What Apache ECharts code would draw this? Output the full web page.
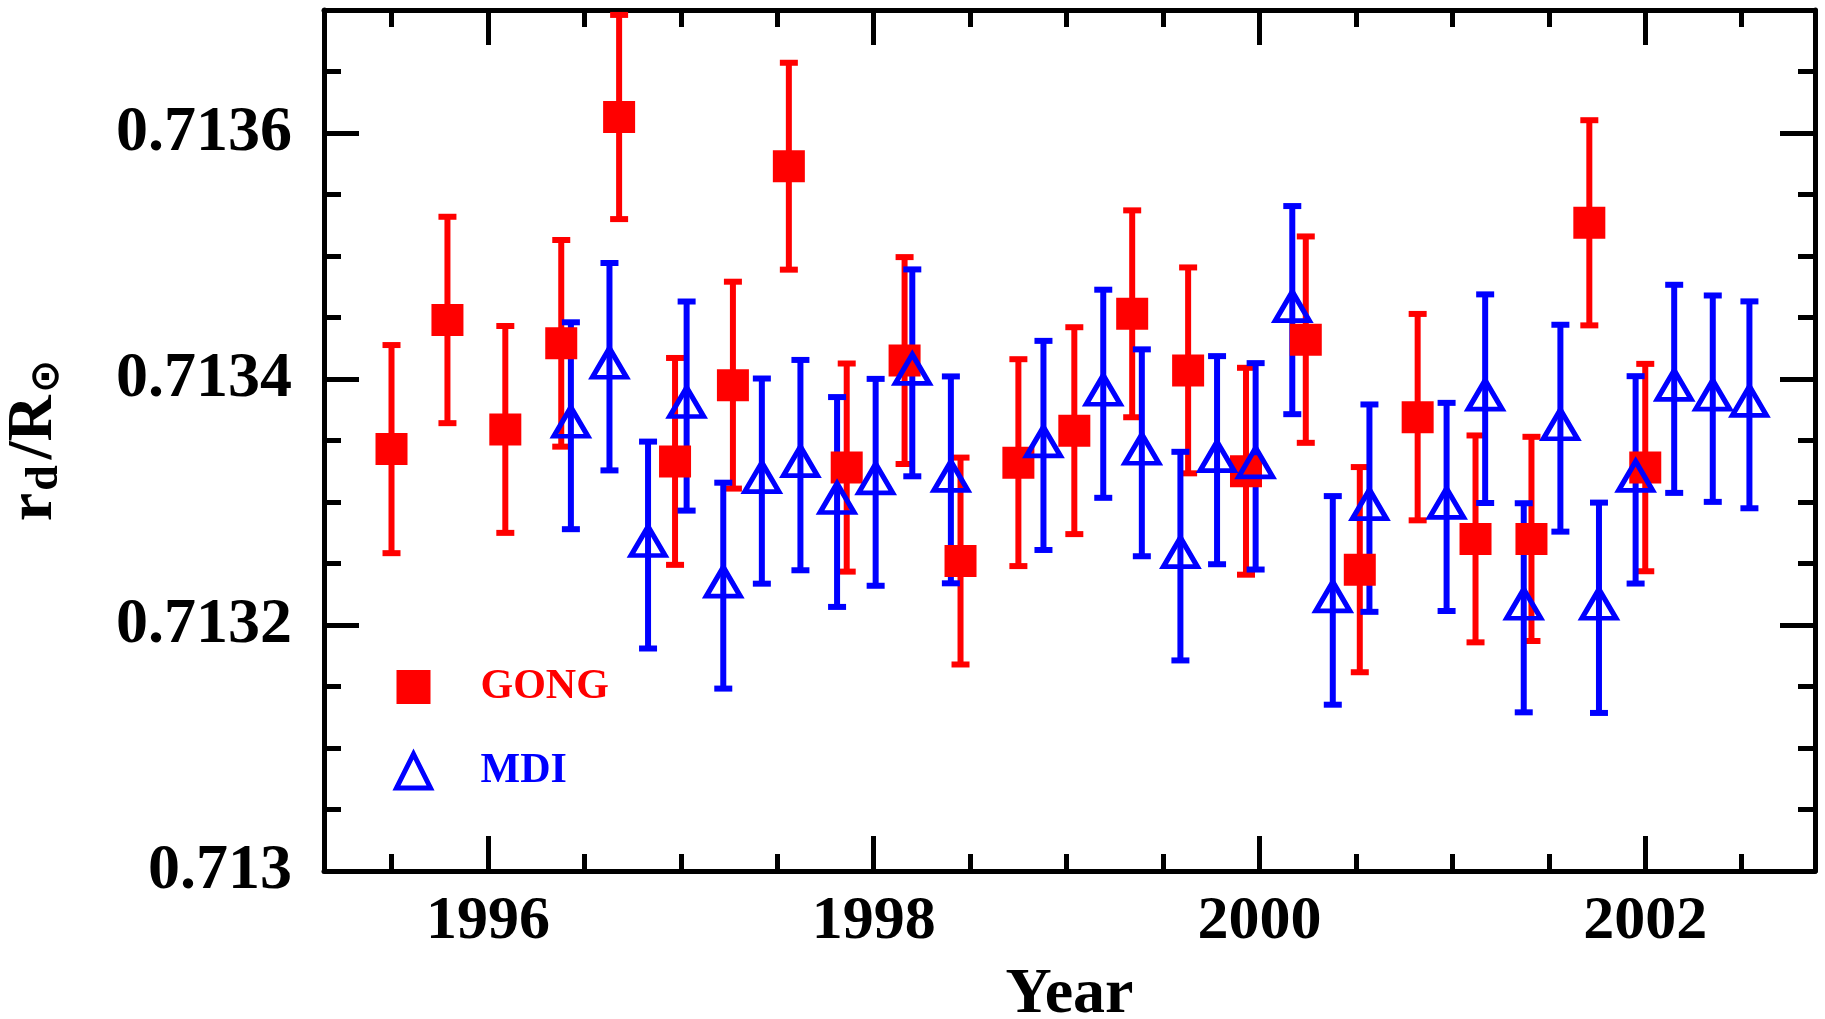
<!DOCTYPE html>
<html>
<head>
<meta charset="utf-8">
<title>r_d / R_sun, GONG and MDI</title>
<script src="https://cdn.jsdelivr.net/npm/echarts@6/dist/echarts.min.js"></script>
<style>
    html, body { margin: 0; padding: 0; background: #ffffff; }
    #chart { width: 1825px; height: 1019px; }
</style>
</head>
<body>
<div id="chart"></div>
<script>
// GONG: year, r_d/R_sun, error
var gongYear = [1995.50, 1995.79, 1996.09, 1996.38, 1996.68, 1996.97, 1997.27, 1997.56, 1997.86, 1998.16, 1998.45, 1998.75,
    1999.04, 1999.34, 1999.63, 1999.93, 2000.24, 2000.52, 2000.82, 2001.12, 2001.41, 2001.71, 2002.00];
var gongRadius = [0.713343, 0.713448, 0.713359, 0.713429, 0.713613, 0.713333, 0.713395, 0.713573, 0.713328, 0.713415, 0.713252, 0.713332,
    0.713358, 0.713453, 0.713407, 0.713325, 0.713432, 0.713245, 0.713369, 0.713270, 0.713270, 0.713527, 0.713328];
var gongError = [0.0000846, 0.0000839, 0.0000841, 0.0000840, 0.0000830, 0.0000841, 0.0000841, 0.0000841, 0.0000846, 0.0000841, 0.0000841, 0.0000841,
    0.0000841, 0.0000841, 0.0000837, 0.0000841, 0.0000839, 0.0000834, 0.0000839, 0.0000841, 0.0000830, 0.0000834, 0.0000843];

// MDI: year, r_d/R_sun, error
var mdiYear = [1996.43, 1996.63, 1996.83, 1997.03, 1997.22, 1997.42, 1997.62, 1997.81, 1998.01, 1998.20, 1998.40, 1998.88,
    1999.19, 1999.39, 1999.59, 1999.78, 1999.98, 2000.17, 2000.38, 2000.57, 2000.97, 2001.17, 2001.37, 2001.56,
    2001.76, 2001.95, 2002.15, 2002.35, 2002.54];
var mdiRadius = [0.713362, 0.713410, 0.713265, 0.713378, 0.713232, 0.713317, 0.713330, 0.713300, 0.713316, 0.713405, 0.713318, 0.713346,
    0.713388, 0.713340, 0.713256, 0.713334, 0.713329, 0.713456, 0.713220, 0.713295, 0.713296, 0.713384, 0.713214, 0.713360,
    0.713214, 0.713318, 0.713392, 0.713384, 0.713379];
var mdiError = [0.0000841, 0.0000843, 0.0000841, 0.0000850, 0.0000837, 0.0000834, 0.0000855, 0.0000853, 0.0000841, 0.0000841, 0.0000841, 0.0000850,
    0.0000846, 0.0000841, 0.0000848, 0.0000846, 0.0000839, 0.0000846, 0.0000848, 0.0000843, 0.0000846, 0.0000848, 0.0000850, 0.0000841,
    0.0000855, 0.0000843, 0.0000846, 0.0000839, 0.0000841];

// axes
var xMin = 1995.15, xMax = 2002.88;
var yMin = 0.713, yMax = 0.7137;
var xMajorTicks = [1996, 1998, 2000, 2002];
var xMinorTicks = [1995.5, 1996.5, 1997, 1997.5, 1998.5, 1999, 1999.5, 2000.5, 2001, 2001.5, 2002.5];
var yMajorTicks = [0.713, 0.7132, 0.7134, 0.7136];
var yMinorTicks = [0.71305, 0.7131, 0.71315, 0.71325, 0.7133, 0.71335, 0.71345, 0.7135, 0.71355, 0.71365];

var fontName = "'Liberation Serif', 'DejaVu Serif', serif";
var red = '#ff0000', blue = '#0000ff';

function points(xs, ys) {
    var out = [];
    for (var i = 0; i < xs.length; i++) out.push([xs[i], ys[i]]);
    return out;
}

function bars(xs, ys, errs) {
    var out = [];
    for (var i = 0; i < xs.length; i++) out.push([xs[i], ys[i] - errs[i], ys[i] + errs[i]]);
    return out;
}

function errorBar(color) {
    return function(params, api) {
        var lo = api.coord([api.value(0), api.value(1)]);
        var hi = api.coord([api.value(0), api.value(2)]);
        var half = 9;
        var style = { stroke: color, lineWidth: 6 };
        return {
            type: 'group',
            children: [
                { type: 'line', shape: { x1: hi[0], y1: hi[1], x2: lo[0], y2: lo[1] }, style: style },
                { type: 'line', shape: { x1: hi[0] - half, y1: hi[1], x2: hi[0] + half, y2: hi[1] }, style: style },
                { type: 'line', shape: { x1: lo[0] - half, y1: lo[1], x2: lo[0] + half, y2: lo[1] }, style: style }
            ]
        };
    };
}

function frameAxis(pos, min, max, ticks, len, showLine) {
    return {
        type: 'value',
        position: pos,
        min: min,
        max: max,
        axisLine: { show: showLine, lineStyle: { color: '#000', width: 5 } },
        axisTick: { show: true, inside: true, length: len, customValues: ticks, lineStyle: { color: '#000', width: 5 } },
        axisLabel: { show: false },
        splitLine: { show: false }
    };
}

var xBottom = frameAxis('bottom', xMin, xMax, xMajorTicks, 35, true);
xBottom.axisLabel = {
    show: true, customValues: xMajorTicks, margin: 20,
    fontFamily: fontName, fontWeight: 'bold', fontSize: 62, color: '#000',
    formatter: function(v) { return String(v); }
};
xBottom.name = 'Year';
xBottom.nameLocation = 'middle';
xBottom.nameGap = 92;
xBottom.nameTextStyle = { fontFamily: fontName, fontWeight: 'bold', fontSize: 64, color: '#000' };

var yLeft = frameAxis('left', yMin, yMax, yMajorTicks, 35, true);
yLeft.axisLabel = {
    show: true, customValues: yMajorTicks, margin: 32,
    fontFamily: fontName, fontWeight: 'bold', fontSize: 64, color: '#000',
    formatter: function(v) { return parseFloat(v.toFixed(4)).toString(); }
};
// subscripts pushed down with top padding
yLeft.name = '{m|r}{s|d}{m|/R}{o|\u2299}';
yLeft.nameLocation = 'middle';
yLeft.nameRotate = 90;
yLeft.nameGap = 256;
yLeft.nameTextStyle = {
    rich: {
        m: { fontFamily: fontName, fontWeight: 'bold', fontSize: 64, lineHeight: 64, color: '#000' },
        s: { fontFamily: fontName, fontWeight: 'bold', fontSize: 46, padding: [22, 6, 0, 2], verticalAlign: 'bottom', color: '#000' },
        o: { fontFamily: "'DejaVu Sans', sans-serif", fontWeight: 'bold', fontSize: 40, padding: [22, 0, 0, 2], verticalAlign: 'bottom', color: '#000' }
    }
};

var chart = echarts.init(document.getElementById('chart'));
chart.setOption({
    backgroundColor: '#ffffff',
    animation: false,
    grid: { left: 324, right: 10, top: 10, bottom: 148, containLabel: false, outerBoundsMode: 'none' },
    legend: {
        orient: 'vertical',
        left: 394,
        top: 666,
        padding: 0,
        itemGap: 42,
        itemWidth: 34,
        itemHeight: 34,
        selectedMode: false,
        textStyle: { fontFamily: fontName, fontWeight: 'bold', fontSize: 42, lineHeight: 40, padding: [0, 0, 0, 45] },
        data: [
            { name: 'GONG', icon: 'rect', itemStyle: { color: red, borderWidth: 0 }, textStyle: { color: red } },
            { name: 'MDI', icon: 'triangle', itemStyle: { color: 'rgba(0,0,0,0)', borderColor: blue, borderWidth: 5 }, textStyle: { color: blue } }
        ]
    },
    xAxis: [
        xBottom,
        frameAxis('bottom', xMin, xMax, xMinorTicks, 17, false),
        frameAxis('top', xMin, xMax, xMajorTicks, 35, true),
        frameAxis('top', xMin, xMax, xMinorTicks, 17, false)
    ],
    yAxis: [
        yLeft,
        frameAxis('left', yMin, yMax, yMinorTicks, 17, false),
        frameAxis('right', yMin, yMax, yMajorTicks, 35, true),
        frameAxis('right', yMin, yMax, yMinorTicks, 17, false)
    ],
    series: [
        {
            name: 'GONG errors',
            type: 'custom',
            renderItem: errorBar(red),
            encode: { x: 0, y: [1, 2] },
            data: bars(gongYear, gongRadius, gongError)
        },
        {
            name: 'GONG',
            type: 'scatter',
            symbol: 'rect',
            symbolSize: 32,
            itemStyle: { color: red, opacity: 1 },
            data: points(gongYear, gongRadius)
        },
        {
            name: 'MDI errors',
            type: 'custom',
            renderItem: errorBar(blue),
            encode: { x: 0, y: [1, 2] },
            data: bars(mdiYear, mdiRadius, mdiError)
        },
        {
            name: 'MDI',
            type: 'scatter',
            symbol: 'triangle',
            symbolSize: [34, 29],
            symbolOffset: [0, -4],
            itemStyle: { color: 'rgba(0,0,0,0)', borderColor: blue, borderWidth: 5, opacity: 1 },
            data: points(mdiYear, mdiRadius)
        }
    ]
});
</script>
</body>
</html>
